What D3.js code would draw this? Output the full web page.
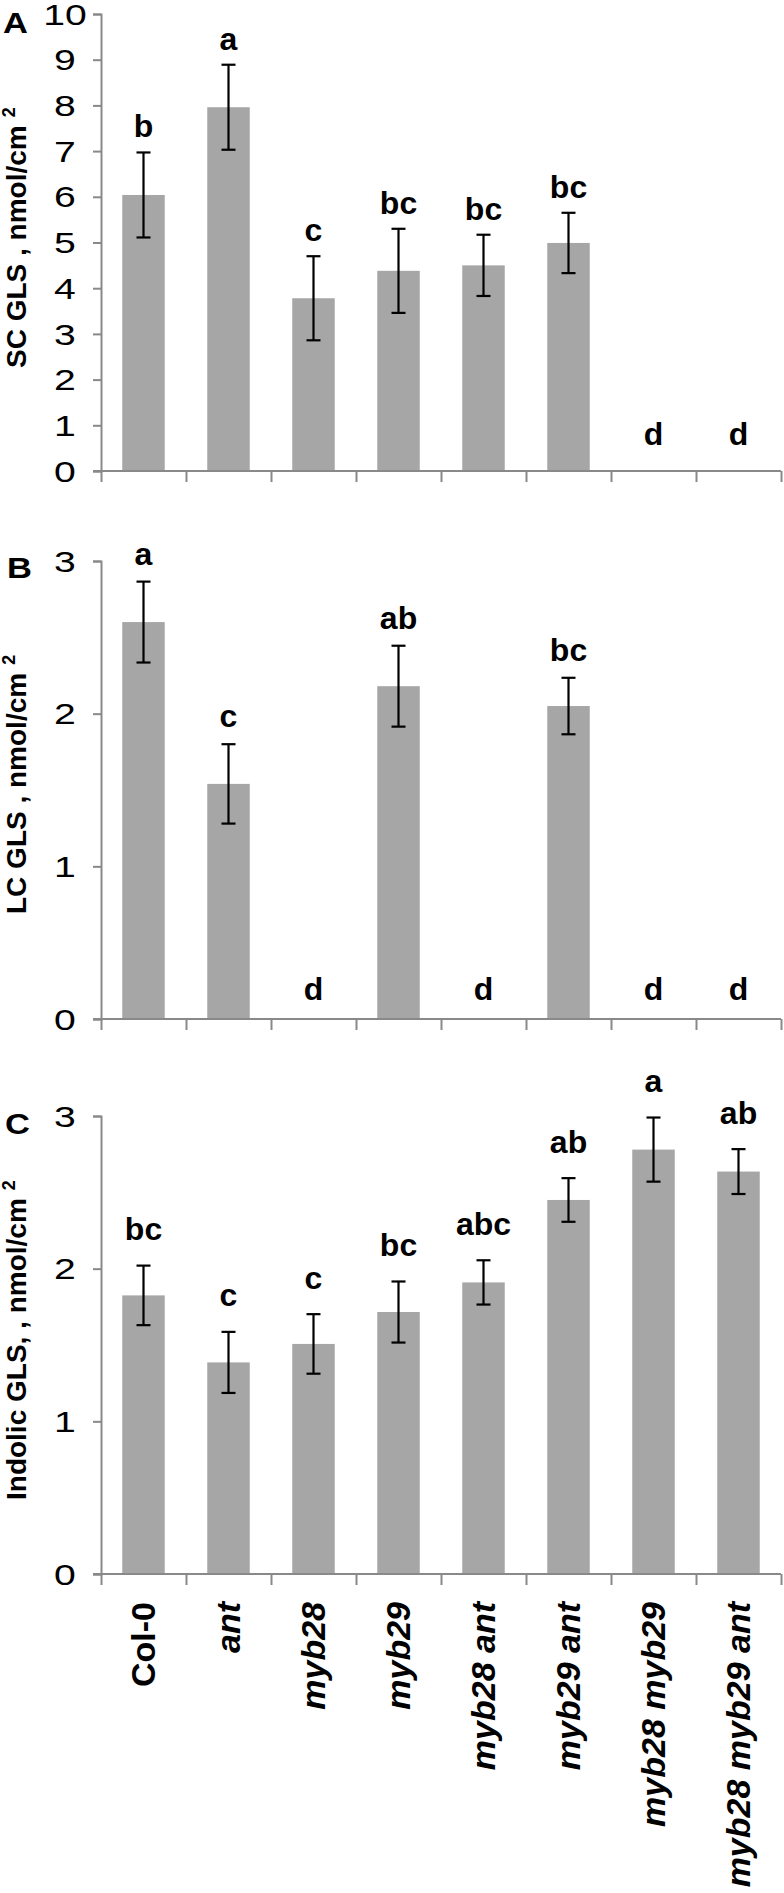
<!DOCTYPE html>
<html>
<head>
<meta charset="utf-8">
<script src="https://cdn.jsdelivr.net/npm/d3@7"></script>
<style>
  html, body { margin: 0; padding: 0; background: #fff; }
  svg { display: block; }
  text { font-family: Arial, "Liberation Sans", sans-serif; }
</style>
</head>
<body>
<svg id="chart" width="784" height="1893"></svg>
<script>
// ---- data ----
const categories = ["Col-0", "ant", "myb28", "myb29", "myb28 ant", "myb29 ant", "myb28 myb29", "myb28 myb29 ant"];
const categoryItalic = [false, true, true, true, true, true, true, true];

const scValues  = [6.04, 7.96, 3.78, 4.38, 4.50, 4.99, 0.02, 0.02];
const scErrors  = [0.93, 0.93, 0.92, 0.92, 0.67, 0.66, 0, 0];
const scLetters = ["b", "a", "c", "bc", "bc", "bc", "d", "d"];
const scTicks   = [0, 1, 2, 3, 4, 5, 6, 7, 8, 9, 10];

const lcValues  = [2.60, 1.54, 0, 2.18, 0, 2.05, 0, 0];
const lcErrors  = [0.265, 0.26, 0, 0.265, 0, 0.185, 0, 0];
const lcLetters = ["a", "c", "d", "ab", "d", "bc", "d", "d"];
const lcTicks   = [0, 1, 2, 3];

const indValues  = [1.825, 1.386, 1.507, 1.716, 1.91, 2.45, 2.78, 2.636];
const indErrors  = [0.195, 0.20, 0.195, 0.20, 0.145, 0.143, 0.21, 0.147];
const indLetters = ["bc", "c", "c", "bc", "abc", "ab", "a", "ab"];
const indTicks   = [0, 1, 2, 3];

const panelLetters = ["A", "B", "C"];
const yTitles = ["SC GLS , nmol/cm", "LC GLS , nmol/cm", "Indolic GLS, , nmol/cm"];

// ---- layout ----
const svg = d3.select("#chart");
const X0 = 101, X1 = 781;
const axisColor = "#898989";
const barColor = "#a6a6a6";

const x = d3.scaleBand().domain(categories).range([X0, X1]).paddingInner(0.5).paddingOuter(0.25);
const xb = d3.scaleLinear().domain([0, categories.length]).range([X0, X1]);

const panels = [
  {values: scValues, errors: scErrors, letters: scLetters, ticks: scTicks, max: 10, yBot: 471, yTop: 14,
   gap: 15, zeroGap: 26, letterX: 3, letterY: 33, titleStart: 368},
  {values: lcValues, errors: lcErrors, letters: lcLetters, ticks: lcTicks, max: 3, yBot: 1019, yTop: 561,
   gap: 17, zeroGap: 19.5, letterX: 7, letterY: 578, titleStart: 914},
  {values: indValues, errors: indErrors, letters: indLetters, ticks: indTicks, max: 3, yBot: 1574, yTop: 1116,
   gap: 25.5, zeroGap: 20, letterX: 5, letterY: 1134, titleStart: 1500}
];

panels.forEach((p, pi) => {
  const g = svg.append("g");
  const y = d3.scaleLinear().domain([0, p.max]).range([p.yBot, p.yTop]);

  // bars
  g.selectAll("rect.bar").data(p.values).enter().append("rect")
    .attr("x", (d, i) => x(categories[i]))
    .attr("width", x.bandwidth())
    .attr("y", d => y(d))
    .attr("height", d => y(0) - y(d))
    .attr("fill", barColor);

  // y axis
  const yAxis = d3.axisLeft(y).tickValues(p.ticks).tickSize(8).tickFormat(d3.format("d"));
  const ya = g.append("g").attr("transform", `translate(${X0},0)`).call(yAxis);
  ya.select(".domain").attr("stroke", axisColor).attr("stroke-width", 2);
  ya.selectAll(".tick line").attr("stroke", axisColor).attr("stroke-width", 2);
  ya.selectAll(".tick text")
    .attr("x", null).attr("dy", null)
    .attr("text-anchor", "middle")
    .attr("dominant-baseline", "central")
    .attr("transform", "translate(-36,0) scale(1.35,1)")
    .attr("fill", "#000")
    .style("font-size", "29px");

  // x axis (category boundaries)
  const xAxis = d3.axisBottom(xb).tickValues(d3.range(0, categories.length + 1)).tickSize(11).tickFormat("");
  const xa = g.append("g").attr("transform", `translate(0,${p.yBot})`).call(xAxis);
  xa.select(".domain").attr("stroke", axisColor).attr("stroke-width", 2).attr("d", `M${X0 - 8},0H${X1}`);
  xa.selectAll(".tick line").attr("stroke", axisColor).attr("stroke-width", 2);

  // error bars
  const cx = i => x(categories[i]) + x.bandwidth() / 2;
  const eb = g.selectAll("g.err").data(p.values.map((v, i) => ({v, e: p.errors[i], i})).filter(d => d.e > 0))
    .enter().append("g").attr("stroke", "#000").attr("stroke-width", 2.2);
  eb.append("line").attr("x1", d => cx(d.i)).attr("x2", d => cx(d.i))
    .attr("y1", d => y(d.v + d.e)).attr("y2", d => y(d.v - d.e));
  eb.append("line").attr("x1", d => cx(d.i) - 7).attr("x2", d => cx(d.i) + 7)
    .attr("y1", d => y(d.v + d.e)).attr("y2", d => y(d.v + d.e));
  eb.append("line").attr("x1", d => cx(d.i) - 7).attr("x2", d => cx(d.i) + 7)
    .attr("y1", d => y(d.v - d.e)).attr("y2", d => y(d.v - d.e));

  // significance letters
  g.selectAll("text.sig").data(p.letters).enter().append("text")
    .attr("x", (d, i) => cx(i))
    .attr("y", (d, i) => p.errors[i] > 0 ? y(p.values[i] + p.errors[i]) - p.gap : y(0) - p.zeroGap)
    .attr("text-anchor", "middle")
    .style("font-size", "32px").style("font-weight", "bold")
    .text(d => d);

  // panel letter
  g.append("text").attr("transform", `translate(${p.letterX},${p.letterY}) scale(1.15,1)`)
    .style("font-size", "30px").style("font-weight", "bold").text(panelLetters[pi]);

  // y title
  const t = g.append("text")
    .attr("transform", `translate(26,${p.titleStart}) rotate(-90)`)
    .attr("text-anchor", "start")
    .style("font-size", "28px").style("font-weight", "bold");
  t.append("tspan").text(yTitles[pi]);
  t.append("tspan").attr("dx", 8).attr("dy", -11).style("font-size", "18px").text("2");
});

// category labels
const yLab = panels[2].yBot + 28;
svg.append("g").selectAll("text").data(categories).enter().append("text")
  .attr("transform", d => `translate(${x(d) + x.bandwidth() / 2},${yLab}) rotate(-90)`)
  .attr("text-anchor", "end")
  .attr("dy", "0.33em")
  .style("font-size", "34px").style("font-weight", "bold")
  .style("font-style", (d, i) => categoryItalic[i] ? "italic" : "normal")
  .text(d => d);
</script>
</body>
</html>
